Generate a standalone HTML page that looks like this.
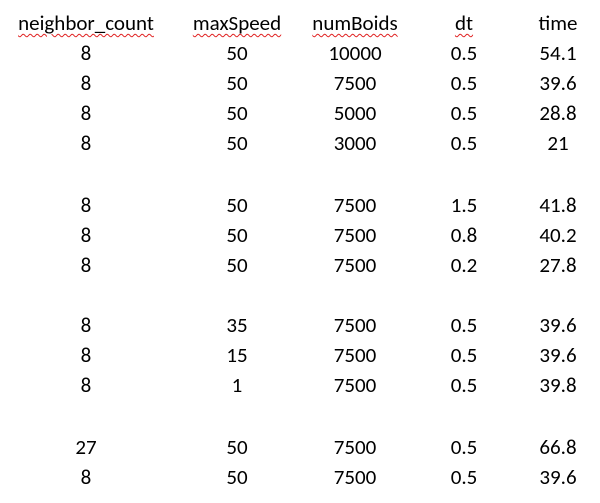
<!DOCTYPE html>
<html><head><meta charset="utf-8"><style>
body{margin:0;width:600px;height:503px;background:#fff;overflow:hidden;position:relative;font-family:"Carlito","Liberation Sans",sans-serif;font-size:21px;color:#000}
.c{position:absolute;transform:translate(-50%,-50%);white-space:nowrap;line-height:24px}
.sq{text-decoration:underline wavy #e02020;text-decoration-thickness:1px;text-underline-offset:3px}
</style></head><body>
<script>
const headers=["neighbor_count","maxSpeed","numBoids","dt","time"];
const colX=[86,237,355,464,558];
const rows=[
[8,50,10000,0.5,54.1],[8,50,7500,0.5,39.6],[8,50,5000,0.5,28.8],[8,50,3000,0.5,21],
[8,50,7500,1.5,41.8],[8,50,7500,0.8,40.2],[8,50,7500,0.2,27.8],
[8,35,7500,0.5,39.6],[8,15,7500,0.5,39.6],[8,1,7500,0.5,39.8],
[27,50,7500,0.5,66.8],[8,50,7500,0.5,39.6]];
const rowY=[53,83,113,143,205,235,265,325,355,385,447,477];
headers.forEach((h,i)=>{
const d=document.createElement('div');
d.className='c'+(i<4?' sq':'');
d.style.left=colX[i]+'px';d.style.top='23px';d.textContent=h;


document.body.appendChild(d);});
rows.forEach((r,ri)=>r.forEach((v,ci)=>{
const d=document.createElement('div');
d.className='c';d.style.left=colX[ci]+'px';d.style.top=rowY[ri]+'px';d.textContent=v;


document.body.appendChild(d);}));
</script>
</body></html>
